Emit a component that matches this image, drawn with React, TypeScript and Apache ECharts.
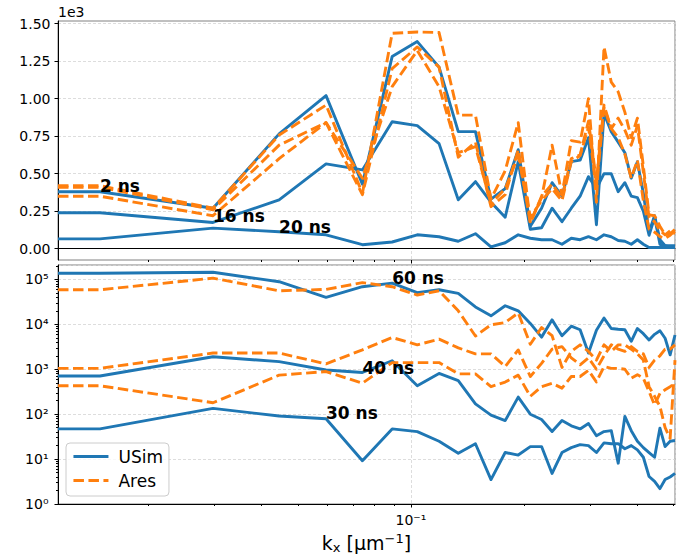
import React, { useEffect, useRef } from "react";
import * as echarts from "echarts";

// ---------- data ----------
const kx = [
  0.01148, 0.01485, 0.0297, 0.04455, 0.0594, 0.07425, 0.0891, 0.10395, 0.1188, 0.13365,
  0.1485, 0.16335, 0.1782, 0.19305, 0.2079, 0.22275, 0.2376, 0.25245, 0.2673, 0.28215,
  0.297, 0.31185, 0.3267, 0.34155, 0.3564, 0.37125, 0.3861, 0.40095, 0.4158, 0.43065,
  0.4455, 0.46035, 0.4752, 0.49005, 0.5049,
];

// top panel (units of 1e3)
const usimTopA = [0.38, 0.38, 0.27, 0.765, 1.02, 0.43, 1.28, 1.38, 1.21, 0.78, 0.78, 0.33, 0.40, 0.66, 0.15, 0.27, 0.44, 0.35, 0.58, 0.59, 0.74, 0.16, 0.90, 0.78, 0.71, 0.64, 0.47, 0.58, 0.37, 0.11, 0.22, 0.06, 0.02, 0.01, 0.01];
const usimTopB = [0.24, 0.24, 0.175, 0.326, 0.565, 0.525, 0.846, 0.82, 0.70, 0.326, 0.447, 0.31, 0.21, 0.58, 0.13, 0.14, 0.27, 0.18, 0.27, 0.35, 0.48, 0.40, 0.50, 0.50, 0.38, 0.44, 0.35, 0.34, 0.25, 0.09, 0.21, 0.03, 0.02, 0.02, 0.02];
const usimTopC = [0.066, 0.066, 0.137, 0.113, 0.093, 0.027, 0.045, 0.093, 0.08, 0.05, 0.10, 0.013, 0.04, 0.093, 0.07, 0.06, 0.06, 0.03, 0.07, 0.06, 0.08, 0.06, 0.093, 0.08, 0.055, 0.05, 0.03, 0.06, 0.03, 0.008, 0.008, 0.008, 0.008, 0.008, 0.008];
const aresTopA = [0.42, 0.42, 0.27, 0.757, 0.957, 0.37, 1.435, 1.444, 1.44, 0.89, 0.89, 0.33, 0.52, 0.84, 0.18, 0.34, 0.69, 0.36, 0.72, 0.71, 1.0, 0.31, 1.344, 1.11, 1.045, 0.91, 0.74, 0.87, 0.55, 0.226, 0.22, 0.15, 0.093, 0.10, 0.13];
const aresTopB = [0.41, 0.41, 0.26, 0.69, 0.84, 0.36, 1.20, 1.344, 1.21, 0.61, 0.71, 0.28, 0.36, 0.66, 0.17, 0.35, 0.43, 0.34, 0.60, 0.625, 0.85, 0.45, 0.957, 0.80, 0.87, 0.79, 0.69, 0.82, 0.51, 0.206, 0.18, 0.12, 0.093, 0.12, 0.10];
const aresTopC = [0.35, 0.35, 0.22, 0.60, 0.84, 0.47, 1.08, 1.32, 1.08, 0.64, 0.68, 0.30, 0.40, 0.62, 0.21, 0.32, 0.40, 0.32, 0.58, 0.62, 0.81, 0.41, 0.94, 0.80, 0.74, 0.63, 0.47, 0.59, 0.32, 0.13, 0.11, 0.08, 0.07, 0.09, 0.12];

// bottom panel (log scale)
const usim60 = [1.38e5, 1.38e5, 1.45e5, 8.9e4, 4.0e4, 6.9e4, 8.3e4, 5.1e4, 5.9e4, 4.9e4, 2.45e4, 1.55e4, 2.6e4, 2.0e4, 1.05e4, 5.2e3, 1.26e4, 5.6e3, 9.1e3, 7.6e3, 2.3e3, 7.4e3, 1.38e4, 8.1e3, 7.8e3, 7.6e3, 4.2e3, 8.1e3, 6.2e3, 4.5e3, 6.0e3, 7.2e3, 4.9e3, 2.1e3, 5.8e3];
const usim40 = [710, 710, 1900, 1480, 965, 850, 1550, 430, 810, 560, 170, 95, 72, 240, 100, 76, 41, 72, 55, 47, 62, 33, 41, 43, 8.1, 89, 43, 25, 18, 14, 11, 49, 19, 25, 26];
const usim30 = [47, 47, 135, 91, 79, 9.2, 47, 41, 25, 13.5, 22, 3.5, 14, 12.3, 19, 19, 4.8, 14, 18, 21, 20, 14, 23, 22, 22, 17, 20, 16, 11, 4.1, 3.2, 2.2, 3.5, 4.0, 4.8];
const ares60 = [5.9e4, 5.9e4, 1.07e5, 5.6e4, 6.0e4, 8.5e4, 6.9e4, 4.5e4, 5.6e4, 2.0e4, 5.5e3, 9.8e3, 1.1e4, 1.8e4, 3.6e3, 8.5e3, 5.6e3, 1.1e3, 2.5e3, 3.5e3, 2.5e3, 1.6e3, 3.5e3, 2.5e3, 3.5e3, 3.5e3, 2.8e3, 2.2e3, 1.6e3, 410, 250, 150, 50, 29, 1.6e3];
const ares40 = [1050, 1050, 2300, 2300, 1320, 2700, 5100, 3500, 4700, 3000, 2200, 2200, 1150, 2700, 690, 1350, 2800, 3200, 1800, 1260, 1800, 1000, 2000, 3500, 2800, 2500, 3200, 2500, 2200, 1100, 1600, 2000, 2800, 2800, 3500];
const ares30 = [430, 430, 180, 740, 890, 490, 1410, 1410, 1410, 790, 790, 410, 520, 740, 250, 410, 490, 380, 690, 690, 950, 520, 1150, 1050, 1050, 1000, 630, 760, 630, 320, 160, 290, 350, 410, 490];

const topNotes = [
  { text: "2 ns", x: 0.01485, y: 0.417 },
  { text: "16 ns", x: 0.0297, y: 0.215 },
  { text: "20 ns", x: 0.04455, y: 0.148 },
];
const bottomNotes = [
  { text: "60 ns", x: 0.0891, y: 1.08e5 },
  { text: "40 ns", x: 0.07425, y: 1080 },
  { text: "30 ns", x: 0.0594, y: 105 },
];

const topYTicks = [0, 0.25, 0.5, 0.75, 1.0, 1.25, 1.5];
const xMajorTicks = [0.1];
const xMinorTicks = [0.02, 0.03, 0.04, 0.05, 0.06, 0.07, 0.08, 0.09, 0.2, 0.3, 0.4, 0.5];
const yMajorTicks = [1, 10, 100, 1000, 10000, 100000];
const yMantissas = [2, 3, 4, 5, 6, 7, 8, 9];

const X_MIN = 0.01148;
const X_MAX = 0.5049;
const TOP_Y_MIN = -0.075;
const TOP_Y_MAX = 1.517;
const BOT_Y_MIN = 1;
const BOT_Y_MAX = 2.1e5;

// ---------- styling ----------
const BLUE = "#1f77b4";
const ORANGE = "#ff7f0e";
const FONT = "'DejaVu Sans', sans-serif";
const LINE_W = 2.9;
const SUP: Record<string, string> = {
  "-": "\u207B", "0": "\u2070", "1": "\u00B9", "2": "\u00B2", "3": "\u00B3",
  "4": "\u2074", "5": "\u2075", "6": "\u2076", "7": "\u2077", "8": "\u2078", "9": "\u2079",
};
const powLabel = (v: number) => {
  const l = Math.log10(v);
  const e = Math.round(l);
  if (Math.abs(l - e) > 1e-6) return "";
  return "10" + String(e).split("").map((c) => SUP[c]).join("");
};

const gridLine = { show: true, lineStyle: { color: "#d4d4d4", width: 0.8, type: [3, 2] as number[] } };

const lineSeries = (name: string, arr: number[], xi: number, yi: number, dashed: boolean) => ({
  type: "line",
  name,
  xAxisIndex: xi,
  yAxisIndex: yi,
  data: kx.map((x, i) => [x, arr[i]]),
  symbol: "none",
  showSymbol: false,
  silent: true,
  z: dashed ? 3 : 2,
  lineStyle: { color: dashed ? ORANGE : BLUE, width: LINE_W, type: dashed ? [10.5, 4.5] : "solid", cap: "butt", join: "round" },
  itemStyle: { color: dashed ? ORANGE : BLUE },
  emphasis: { disabled: true },
});

const noteSeries = (notes: { text: string; x: number; y: number }[], xi: number, yi: number) => ({
  type: "scatter",
  xAxisIndex: xi,
  yAxisIndex: yi,
  symbolSize: 0,
  silent: true,
  z: 10,
  itemStyle: { color: "#000", opacity: 1 },
  data: notes.map((n) => ({ value: [n.x, n.y], name: n.text })),
  label: {
    show: true, position: "right", distance: 0, formatter: "{b}", opacity: 1,
    fontFamily: FONT, fontSize: 17, fontWeight: "bold", color: "#000",
  },
  emphasis: { disabled: true },
});

const tickAxis = (gridIndex: number, min: number, max: number, values: number[], length: number, position: string) => ({
  type: "value",
  gridIndex,
  min,
  max,
  position,
  axisLine: { show: false },
  axisLabel: { show: false },
  splitLine: { show: false },
  axisTick: { show: true, customValues: values, length, lineStyle: { color: "#000", width: 1 } },
});

const lxMin = Math.log10(X_MIN);
const lxMax = Math.log10(X_MAX);
const xMajLog = xMajorTicks.map((v) => Math.log10(v));
const xMinLog = xMinorTicks.map((v) => Math.log10(v));
const yMajLog = yMajorTicks.map((v) => Math.log10(v));
const yMinLog: number[] = [];
yMajorTicks.forEach((d) => yMantissas.forEach((m) => {
  const v = Math.log10(m * d);
  if (v < Math.log10(BOT_Y_MAX)) yMinLog.push(v);
}));

const option: any = {
  animation: false,
  textStyle: { fontFamily: FONT },
  grid: [
    { left: 58, top: 21, width: 617, height: 239, show: true, borderColor: "#808080", borderWidth: 1, containLabel: false, outerBoundsMode: "none" },
    { left: 58, top: 265, width: 617, height: 239, show: true, borderColor: "#808080", borderWidth: 1, containLabel: false, outerBoundsMode: "none" },
  ],
  xAxis: [
    {
      type: "log", logBase: 10, gridIndex: 0, min: X_MIN, max: X_MAX, position: "bottom",
      axisLine: { show: true, lineStyle: { color: "#000", width: 1 } },
      axisTick: { show: false }, axisLabel: { show: false }, splitLine: gridLine,
    },
    tickAxis(0, lxMin, lxMax, xMajLog, 3.5, "bottom"),
    tickAxis(0, lxMin, lxMax, xMinLog, 2, "bottom"),
    {
      type: "log", logBase: 10, gridIndex: 1, min: X_MIN, max: X_MAX, position: "bottom",
      axisLine: { show: true, lineStyle: { color: "#000", width: 1 } },
      axisTick: { show: false },
      axisLabel: { show: true, margin: 9, formatter: powLabel, fontSize: 14, color: "#000", fontFamily: FONT },
      splitLine: gridLine,
    },
    tickAxis(1, lxMin, lxMax, xMajLog, 3.5, "bottom"),
    tickAxis(1, lxMin, lxMax, xMinLog, 2, "bottom"),
  ],
  yAxis: [
    {
      type: "value", gridIndex: 0, min: TOP_Y_MIN, max: TOP_Y_MAX, position: "left",
      axisLine: { show: true, lineStyle: { color: "#000", width: 1 } },
      axisTick: { show: true, customValues: topYTicks, length: 3.5, lineStyle: { color: "#000" } },
      axisLabel: { show: true, customValues: topYTicks, margin: 7.5, formatter: (v: number) => v.toFixed(2), fontSize: 14, color: "#000", fontFamily: FONT },
      splitLine: gridLine,
    },
    {
      type: "log", logBase: 10, gridIndex: 1, min: BOT_Y_MIN, max: BOT_Y_MAX, position: "left",
      axisLine: { show: true, lineStyle: { color: "#000", width: 1 } },
      axisTick: { show: false },
      axisLabel: { show: true, margin: 9.5, formatter: powLabel, fontSize: 14, color: "#000", fontFamily: FONT },
      splitLine: gridLine,
    },
    tickAxis(1, 0, Math.log10(BOT_Y_MAX), yMajLog, 3.5, "left"),
    tickAxis(1, 0, Math.log10(BOT_Y_MAX), yMinLog, 2, "left"),
  ],
  legend: {
    data: ["USim", "Ares"],
    orient: "vertical",
    left: 66,
    top: 443,
    itemWidth: 35,
    itemHeight: 14,
    itemGap: 7,
    padding: [5, 6, 7, 6],
    borderColor: "#cccccc",
    borderWidth: 1,
    borderRadius: 4,
    backgroundColor: "rgba(255,255,255,0.8)",
    itemStyle: { color: "rgba(0,0,0,0)", borderWidth: 0 },
    lineStyle: { width: LINE_W },
    textStyle: { fontSize: 17, lineHeight: 17, color: "#000", fontFamily: FONT, padding: [0, 0, 0, 5] },
  },
  graphic: [
    { type: "text", left: 58, top: 5, style: { text: "1e3", fontSize: 14, fontFamily: FONT, fill: "#000" } },
    {
      type: "text",
      x: 366.5,
      y: 543,
      style: {
        text: "{n|k}{s|x}{n| [\u03BCm}{p|\u22121}{n|]}",
        align: "center",
        verticalAlign: "middle",
        fill: "#000",
        rich: {
          n: { fontSize: 19, fontFamily: FONT, lineHeight: 22, fill: "#000" },
          s: { fontSize: 13, fontFamily: FONT, lineHeight: 13, verticalAlign: "bottom", fill: "#000" },
          p: { fontSize: 13, fontFamily: FONT, lineHeight: 13, verticalAlign: "top", fill: "#000" },
        },
      },
    },
  ],
  series: [
    lineSeries("USim", usimTopA, 0, 0, false),
    lineSeries("USim", usimTopB, 0, 0, false),
    lineSeries("USim", usimTopC, 0, 0, false),
    lineSeries("Ares", aresTopA, 0, 0, true),
    lineSeries("Ares", aresTopB, 0, 0, true),
    lineSeries("Ares", aresTopC, 0, 0, true),
    lineSeries("USim", usim60, 3, 1, false),
    lineSeries("USim", usim40, 3, 1, false),
    lineSeries("USim", usim30, 3, 1, false),
    lineSeries("Ares", ares60, 3, 1, true),
    lineSeries("Ares", ares40, 3, 1, true),
    lineSeries("Ares", ares30, 3, 1, true),
    noteSeries(topNotes, 0, 0),
    noteSeries(bottomNotes, 3, 1),
  ],
};

export default function App() {
  const ref = useRef<HTMLDivElement>(null);
  useEffect(() => {
    document.body.style.margin = "0";
    const chart = echarts.init(ref.current as HTMLDivElement, undefined, { renderer: "svg", width: 691, height: 557 });
    chart.setOption(option);
    return () => chart.dispose();
  }, []);
  return <div ref={ref} style={{ width: 691, height: 557 }} />;
}
